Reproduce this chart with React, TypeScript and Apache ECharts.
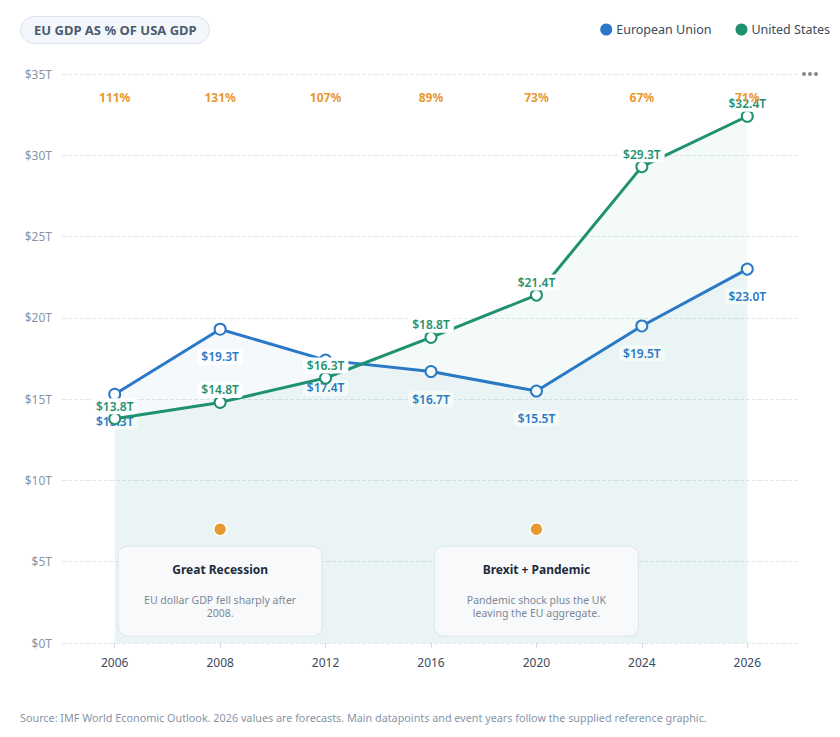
import React, { useEffect, useRef } from "react";
import * as echarts from "echarts";

const years = ["2006", "2008", "2012", "2016", "2020", "2024", "2026"];
const euValues = [15.3, 19.3, 17.4, 16.7, 15.5, 19.5, 23.0];
const usValues = [13.8, 14.8, 16.3, 18.8, 21.4, 29.3, 32.4];
const pctLabels = ["111%", "131%", "107%", "89%", "73%", "67%", "71%"];
const yTicks = { min: 0, max: 35, interval: 5 };
const eventYears = ["2008", "2020"];
const eventValue = 7;
const eventTitles = ["Great Recession", "Brexit + Pandemic"];
const eventDescs = [
  "EU dollar GDP fell sharply after\n2008.",
  "Pandemic shock plus the UK\nleaving the EU aggregate.",
];

const FONT = "'Noto Sans', 'Open Sans', sans-serif";
const EU_COLOR = "#2b78c9";
const US_COLOR = "#1f9170";
const ORANGE = "#e8992f";

export default function App() {
  const ref = useRef<HTMLDivElement>(null);
  useEffect(() => {
    document.body.style.margin = "0";
    const chart = echarts.init(ref.current!, null, { renderer: "svg" });
    const labelBase = {
      show: true,
      fontSize: 12,
      fontWeight: 600,
      fontFamily: FONT,
      backgroundColor: "#ffffff",
      padding: [2, 4],
      borderRadius: 4,
      formatter: (p: any) => "$" + Number(p.value).toFixed(1) + "T",
    };
    chart.setOption({
      animation: false,
      textStyle: { fontFamily: FONT },
      title: [
        {
          text: "EU GDP AS % OF USA GDP",
          left: 20,
          top: 16,
          backgroundColor: "#f3f7fb",
          borderColor: "#dae3ec",
          borderWidth: 1,
          borderRadius: 14,
          padding: [6, 13, 6, 14],
          textStyle: { fontSize: 13, fontWeight: "bold", color: "#4b5b70", fontFamily: FONT, lineHeight: 16 },
        },
        {
          text: "Source: IMF World Economic Outlook. 2026 values are forecasts. Main datapoints and event years follow the supplied reference graphic.",
          left: 20,
          top: 712,
          padding: 0,
          textStyle: { fontSize: 10.8, fontWeight: "normal", color: "#8795a7", fontFamily: FONT },
        },
      ],
      legend: {
        data: ["European Union", "United States"],
        top: 18,
        right: 5,
        icon: "circle",
        itemWidth: 10,
        itemHeight: 10,
        itemGap: 24,
        textStyle: { fontSize: 12.5, color: "#3c4a5c", fontFamily: FONT },
      },
      grid: { left: 62, right: 40, top: 74, bottom: 94 },
      xAxis: [
        {
          type: "category",
          data: years,
          boundaryGap: true,
          axisLine: { show: false },
          axisTick: { show: true, alignWithLabel: true, length: 5, lineStyle: { color: "#d3dbe5" } },
          axisLabel: { color: "#3c4a5c", fontSize: 12, margin: 13 },
          splitLine: { show: false },
        },
        {
          type: "category",
          data: pctLabels,
          position: "top",
          boundaryGap: true,
          z: 20,
          axisLine: { show: false },
          axisTick: { show: false },
          axisLabel: { inside: true, margin: 17, color: ORANGE, fontSize: 12, fontWeight: "bold" },
        },
      ],
      yAxis: {
        type: "value",
        min: yTicks.min,
        max: yTicks.max,
        interval: yTicks.interval,
        axisLine: { show: false },
        axisTick: { show: false },
        axisLabel: { formatter: "${value}T", color: "#8895a7", fontSize: 12, margin: 10 },
        splitLine: { lineStyle: { type: "dashed", color: "#e1e7ef" } },
      },
      series: [
        {
          name: "European Union",
          type: "line",
          data: euValues,
          color: EU_COLOR,
          symbol: "emptyCircle",
          symbolSize: 11,
          lineStyle: { width: 3, color: EU_COLOR },
          itemStyle: { color: EU_COLOR, borderWidth: 2.5, borderColor: EU_COLOR },
          areaStyle: { color: "rgba(43,120,201,0.07)", origin: "start" },
          label: { ...labelBase, position: "bottom", distance: 13, color: EU_COLOR },
          z: 3,
        },
        {
          name: "United States",
          type: "line",
          data: usValues,
          color: US_COLOR,
          symbol: "emptyCircle",
          symbolSize: 11,
          lineStyle: { width: 3, color: US_COLOR },
          itemStyle: { color: US_COLOR, borderWidth: 2.5, borderColor: US_COLOR },
          areaStyle: { color: "rgba(31,145,112,0.07)", origin: "start" },
          label: { ...labelBase, position: "top", distance: -2, color: US_COLOR },
          z: 4,
        },
        {
          name: "events",
          type: "custom",
          clip: false,
          z: 5,
          encode: { x: 0, y: 1 },
          data: eventYears.map((y) => [y, eventValue]),
          renderItem: (params: any, api: any) => {
            const p = api.coord([api.value(0), api.value(1)]);
            const i = params.dataIndex;
            return {
              type: "group",
              children: [
                {
                  type: "rect",
                  shape: { x: p[0] - 102, y: p[1] + 17, width: 204, height: 90, r: 9 },
                  style: { fill: "#f7f9fb", stroke: "#dce4ec", lineWidth: 1 },
                },
                {
                  type: "circle",
                  shape: { cx: p[0], cy: p[1], r: 6.5 },
                  style: { fill: ORANGE, stroke: "#ffffff", lineWidth: 1.5 },
                },
                {
                  type: "text",
                  x: p[0],
                  y: p[1] + 40,
                  style: {
                    text: eventTitles[i],
                    align: "center",
                    verticalAlign: "middle",
                    fontSize: 12,
                    fontWeight: "bold",
                    fontFamily: FONT,
                    fill: "#1e2b3c",
                  },
                },
                {
                  type: "text",
                  x: p[0],
                  y: p[1] + 64.5,
                  style: {
                    text: eventDescs[i],
                    align: "center",
                    verticalAlign: "top",
                    fontSize: 10.5,
                    lineHeight: 13,
                    fontFamily: FONT,
                    fill: "#7c8898",
                  },
                },
              ],
            };
          },
        },
      ],
      graphic: [
        { type: "circle", shape: { cx: 804, cy: 74, r: 2 }, style: { fill: "#8a8a8a" } },
        { type: "circle", shape: { cx: 810, cy: 74, r: 2 }, style: { fill: "#8a8a8a" } },
        { type: "circle", shape: { cx: 816, cy: 74, r: 2 }, style: { fill: "#8a8a8a" } },
      ],
    });
    return () => chart.dispose();
  }, []);
  return <div ref={ref} style={{ width: 840, height: 737 }} />;
}
